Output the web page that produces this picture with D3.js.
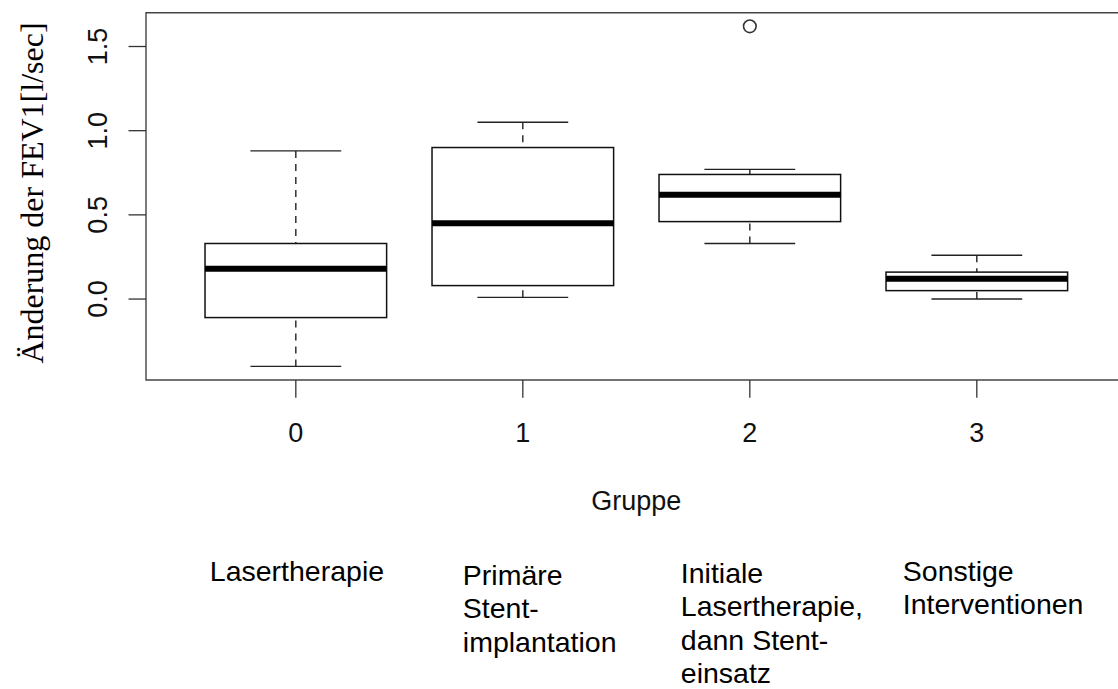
<!DOCTYPE html>
<html>
<head>
<meta charset="utf-8">
<script src="https://cdnjs.cloudflare.com/ajax/libs/d3/7.8.5/d3.min.js"></script>
<style>
  body { margin: 0; background: #fff; }
  svg { display: block; }
  .tick-label { font-family: "Liberation Sans", Arial, sans-serif; font-size: 27px; fill: #111; }
  .group-name { font-family: "Liberation Sans", Arial, sans-serif; font-size: 28.5px; fill: #000; }
  .y-title { font-family: "Liberation Serif", "Times New Roman", serif; font-size: 32px; fill: #000; }
</style>
</head>
<body>
<div class="chart"></div>
<script>
// boxplot stats (one entry per group)
var groups = [0, 1, 2, 3];
var whiskerLow = [-0.40, 0.01, 0.33, 0.00];
var q1 = [-0.11, 0.08, 0.46, 0.05];
var median = [0.18, 0.45, 0.62, 0.12];
var q3 = [0.33, 0.90, 0.74, 0.16];
var whiskerHigh = [0.88, 1.05, 0.77, 0.26];
var outliers = [[], [], [1.62], []];
var yTicks = [0, 0.5, 1.0, 1.5];
var xTitle = "Gruppe";
var yTitle = "Änderung der FEV1[l/sec]";
var groupNames = [
  ["Lasertherapie"],
  ["Primäre", "Stent-", "implantation"],
  ["Initiale", "Lasertherapie,", "dann Stent-", "einsatz"],
  ["Sonstige", "Interventionen"]
];

// layout of the hand placed group names under the plot
var nameDx = [-86, -60, -69, -74];
var nameBaseline = [581, 585, 583, 581];
var nameLineHeight = 33.3;

var width = 1118, height = 689;
var plotLeft = 146, plotTop = 12.7, plotBottom = 380;

var svg = d3.select(".chart")
  .append("svg")
  .attr("width", width)
  .attr("height", height);

svg.append("rect")
  .attr("width", width)
  .attr("height", height)
  .attr("fill", "#fff");

// R style ranges: x from 0.5 to n+0.5, both padded by 4%
var n = groups.length;
var xlo = 0.5 - 0.04 * n, xhi = n + 0.5 + 0.04 * n;
var x = d3.scaleLinear()
  .domain([xlo, xhi])
  .range([plotLeft, plotLeft + 227 * (xhi - xlo)]);

var allVals = whiskerLow.concat(whiskerHigh, d3.merge(outliers));
var ymin = d3.min(allVals), ymax = d3.max(allVals);
var pad = 0.04 * (ymax - ymin);
var y = d3.scaleLinear()
  .domain([ymin - pad, ymax + pad])
  .range([plotBottom, plotTop]);

var halfBox = 0.4, halfCap = 0.2;

// boxes
var box = svg.selectAll(".box")
  .data(groups)
  .enter().append("g")
  .attr("class", "box");

// dashed whiskers, drawn from the whisker end towards the box
box.append("line")
  .attr("x1", function(d, i) { return x(i + 1); })
  .attr("x2", function(d, i) { return x(i + 1); })
  .attr("y1", function(d, i) { return y(whiskerHigh[i]); })
  .attr("y2", function(d, i) { return y(q3[i]); })
  .attr("stroke", "#222")
  .attr("stroke-width", 1.4)
  .attr("stroke-dasharray", "7,6");

box.append("line")
  .attr("x1", function(d, i) { return x(i + 1); })
  .attr("x2", function(d, i) { return x(i + 1); })
  .attr("y1", function(d, i) { return y(whiskerLow[i]); })
  .attr("y2", function(d, i) { return y(q1[i]); })
  .attr("stroke", "#222")
  .attr("stroke-width", 1.4)
  .attr("stroke-dasharray", "7,6");

// caps
[whiskerHigh, whiskerLow].forEach(function(arr) {
  box.append("line")
    .attr("x1", function(d, i) { return x(i + 1 - halfCap); })
    .attr("x2", function(d, i) { return x(i + 1 + halfCap); })
    .attr("y1", function(d, i) { return y(arr[i]); })
    .attr("y2", function(d, i) { return y(arr[i]); })
    .attr("stroke", "#222")
    .attr("stroke-width", 1.4);
});

box.append("rect")
  .attr("x", function(d, i) { return x(i + 1 - halfBox); })
  .attr("width", function(d, i) { return x(i + 1 + halfBox) - x(i + 1 - halfBox); })
  .attr("y", function(d, i) { return y(q3[i]); })
  .attr("height", function(d, i) { return y(q1[i]) - y(q3[i]); })
  .attr("fill", "#fff")
  .attr("stroke", "#111")
  .attr("stroke-width", 1.5);

box.append("line")
  .attr("x1", function(d, i) { return x(i + 1 - halfBox); })
  .attr("x2", function(d, i) { return x(i + 1 + halfBox); })
  .attr("y1", function(d, i) { return y(median[i]); })
  .attr("y2", function(d, i) { return y(median[i]); })
  .attr("stroke", "#000")
  .attr("stroke-width", 6);

// outliers
box.each(function(d, i) {
  d3.select(this).selectAll("circle")
    .data(outliers[i])
    .enter().append("circle")
    .attr("cx", x(i + 1))
    .attr("cy", function(v) { return y(v); })
    .attr("r", 6.3)
    .attr("fill", "none")
    .attr("stroke", "#333")
    .attr("stroke-width", 1.6);
});

// frame (right side falls outside the picture)
svg.append("path")
  .attr("d", "M" + x(xhi) + "," + plotTop + "H" + x(xlo) + "V" + plotBottom + "H" + x(xhi))
  .attr("fill", "none")
  .attr("stroke", "#444")
  .attr("stroke-width", 1.4);

// x axis
svg.selectAll(".xtick")
  .data(groups)
  .enter().append("line")
  .attr("class", "xtick")
  .attr("x1", function(d, i) { return x(i + 1); })
  .attr("x2", function(d, i) { return x(i + 1); })
  .attr("y1", plotBottom)
  .attr("y2", plotBottom + 17.7)
  .attr("stroke", "#333")
  .attr("stroke-width", 1.3);

svg.selectAll(".xlab")
  .data(groups)
  .enter().append("text")
  .attr("class", "tick-label")
  .attr("x", function(d, i) { return x(i + 1); })
  .attr("y", 441.7)
  .attr("text-anchor", "middle")
  .text(function(d) { return d; });

svg.append("text")
  .attr("class", "tick-label")
  .attr("x", (x(xlo) + x(xhi)) / 2)
  .attr("y", 509.5)
  .attr("text-anchor", "middle")
  .text(xTitle);

// y axis
svg.selectAll(".ytick")
  .data(yTicks)
  .enter().append("line")
  .attr("class", "ytick")
  .attr("x1", plotLeft)
  .attr("x2", plotLeft - 17.5)
  .attr("y1", function(d) { return y(d); })
  .attr("y2", function(d) { return y(d); })
  .attr("stroke", "#333")
  .attr("stroke-width", 1.3);

svg.selectAll(".ylab")
  .data(yTicks)
  .enter().append("text")
  .attr("class", "tick-label")
  .attr("transform", function(d) { return "translate(106.7," + y(d) + ") rotate(-90)"; })
  .attr("text-anchor", "middle")
  .text(function(d) { return d3.format(".1f")(d); });

svg.append("text")
  .attr("class", "y-title")
  .attr("transform", "translate(43.3,193) rotate(-90)")
  .attr("text-anchor", "middle")
  .text(yTitle);

// group names below
svg.selectAll(".group-name")
  .data(groupNames)
  .enter().append("text")
  .attr("class", "group-name")
  .attr("x", function(d, i) { return x(i + 1) + nameDx[i]; })
  .attr("y", function(d, i) { return nameBaseline[i]; })
  .each(function(lines, i) {
    var t = d3.select(this);
    lines.forEach(function(line, k) {
      t.append("tspan")
        .attr("x", x(i + 1) + nameDx[i])
        .attr("y", nameBaseline[i] + k * nameLineHeight)
        .text(line);
    });
  });
</script>
</body>
</html>
